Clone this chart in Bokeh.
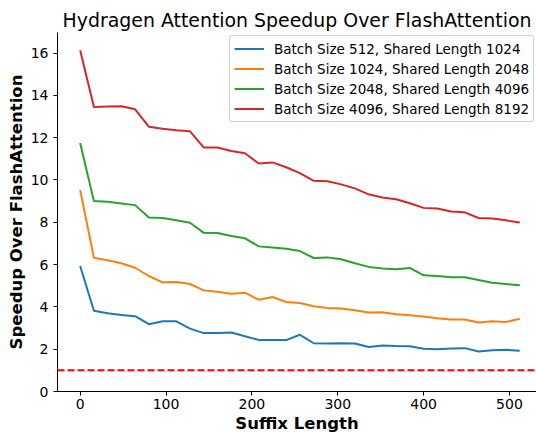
from bokeh.plotting import figure
from bokeh.models import Legend, LegendItem, Span, FixedTicker, Range1d
from bokeh.embed import file_html
from bokeh.resources import INLINE

suffix_lengths = [0, 16, 32, 48, 64, 80, 96, 112, 128, 144, 160, 176, 192, 208, 224, 240,
                  256, 272, 288, 304, 320, 336, 352, 368, 384, 400, 416, 432, 448, 464, 480, 496, 512]

bs512_sl1024 = [5.93, 3.82, 3.70, 3.62, 3.56, 3.18, 3.32, 3.32, 2.97, 2.76, 2.76, 2.79, 2.61, 2.44, 2.43, 2.43,
                2.68, 2.28, 2.27, 2.28, 2.27, 2.10, 2.17, 2.15, 2.14, 2.02, 2.00, 2.03, 2.05, 1.89, 1.95, 1.97, 1.93]
bs1024_sl2048 = [9.52, 6.32, 6.20, 6.06, 5.85, 5.46, 5.16, 5.18, 5.08, 4.78, 4.72, 4.62, 4.67, 4.34, 4.47, 4.23,
                 4.18, 4.03, 3.95, 3.92, 3.84, 3.73, 3.75, 3.65, 3.60, 3.54, 3.46, 3.40, 3.40, 3.26, 3.32, 3.29, 3.44]
bs2048_sl4096 = [11.75, 9.00, 8.97, 8.89, 8.81, 8.23, 8.20, 8.09, 7.98, 7.50, 7.49, 7.35, 7.24, 6.86, 6.81, 6.75,
                 6.64, 6.31, 6.34, 6.25, 6.06, 5.89, 5.82, 5.78, 5.84, 5.49, 5.46, 5.40, 5.40, 5.27, 5.14, 5.08, 5.02]
bs4096_sl8192 = [16.13, 13.45, 13.47, 13.48, 13.34, 12.52, 12.42, 12.35, 12.30, 11.53, 11.53, 11.37, 11.26, 10.78, 10.83, 10.60,
                 10.32, 9.96, 9.94, 9.79, 9.60, 9.32, 9.17, 9.09, 8.90, 8.68, 8.65, 8.51, 8.47, 8.20, 8.18, 8.09, 7.99]

series_labels = ["Batch Size 512, Shared Length 1024",
                 "Batch Size 1024, Shared Length 2048",
                 "Batch Size 2048, Shared Length 4096",
                 "Batch Size 4096, Shared Length 8192"]
series_values = [bs512_sl1024, bs1024_sl2048, bs2048_sl4096, bs4096_sl8192]
series_colors = ["#1f77b4", "#ff7f0e", "#2ca02c", "#d62728"]

baseline = 1.0
x_ticks = [0, 100, 200, 300, 400, 500]
y_ticks = [0, 2, 4, 6, 8, 10, 12, 14, 16]

FONT = "DejaVu Sans"

p = figure(width=536, height=435, output_backend="svg", toolbar_location=None,
           x_range=Range1d(-26.4, 531.5), y_range=Range1d(0, 16.97),
           min_border_left=57, min_border_right=0, min_border_top=32, min_border_bottom=43)

p.title.text = "Hydragen Attention Speedup Over FlashAttention"
p.title.text_font = FONT
p.title.text_font_size = "18.9px"
p.title.text_font_style = "normal"
p.title.align = "center"
p.title.standoff = 4
p.title.text_color = "black"

p.outline_line_color = None
p.xgrid.visible = False
p.ygrid.visible = False
p.background_fill_color = "white"
p.border_fill_color = "white"

for ax in (p.xaxis[0], p.yaxis[0]):
    ax.axis_line_color = "black"
    ax.axis_line_width = 1
    ax.major_tick_line_color = "black"
    ax.major_tick_out = 4
    ax.major_tick_in = 0
    ax.minor_tick_line_color = None
    ax.major_label_text_font = FONT
    ax.major_label_text_font_size = "14px"
    ax.major_label_text_color = "black"
    ax.axis_label_text_font = FONT
    ax.axis_label_text_font_style = "bold"
    ax.axis_label_text_font_size = "16.5px"
    ax.axis_label_text_color = "black"

p.xaxis[0].major_label_standoff = 3
p.xaxis[0].axis_label_standoff = 2
p.yaxis[0].major_label_standoff = 5
p.yaxis[0].axis_label_standoff = 2

p.xaxis.axis_label = "Suffix Length"
p.yaxis.axis_label = "Speedup Over FlashAttention"
p.xaxis.ticker = FixedTicker(ticks=x_ticks)
p.yaxis.ticker = FixedTicker(ticks=y_ticks)

items = []
for label, vals, color in zip(series_labels, series_values, series_colors):
    r = p.line(suffix_lengths, vals, line_color=color, line_width=2)
    items.append(LegendItem(label=label, renderers=[r]))

p.add_layout(Span(location=baseline, dimension="width", line_color="red",
                  line_dash="7 3", line_width=2))

legend = Legend(items=items, location=(172, 269))
legend.label_text_font = FONT
legend.label_text_font_size = "13.5px"
legend.label_text_color = "black"
legend.padding = 4
legend.spacing = 3
legend.label_height = 17
legend.glyph_height = 17
legend.glyph_width = 30
legend.label_standoff = 10
legend.margin = 0
legend.border_line_color = "#cccccc"
legend.border_line_alpha = 0.9
legend.background_fill_color = "white"
legend.background_fill_alpha = 0.8
if "border_radius" in Legend.properties():
    legend.border_radius = 3
p.add_layout(legend, "center")

open("out.html", "w").write(file_html(p, INLINE))
